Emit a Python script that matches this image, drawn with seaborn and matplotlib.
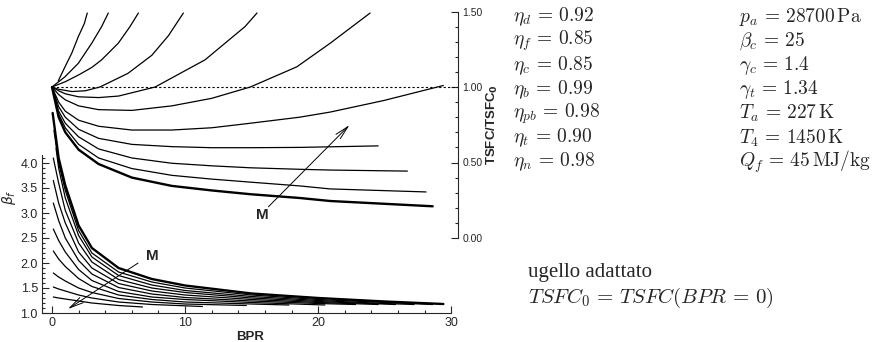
import numpy as np
import pandas as pd
import matplotlib
matplotlib.use("Agg")
import matplotlib.pyplot as plt
import seaborn as sns
from matplotlib.ticker import FixedLocator, FormatStrFormatter

# TSFC/TSFC0 vs BPR (upper family, one list per curve)
tsfc_bpr = [
    [0.47, 0.98, 1.48, 1.98, 2.43, 2.65],
    [0, 0.98, 1.98, 2.98, 3.73, 4.23],
    [0, 1, 2, 3, 3.73, 4.98, 5.86, 6.49],
    [0, 0.5, 1.5, 2.5, 3.6, 5.7, 7.5, 8.75, 9.87],
    [0, 0.5, 1, 2, 3.5, 5, 7.75, 11.5, 14.5, 15.4],
    [0, 0.5, 1, 2, 3.5, 6, 9, 12, 14.9, 18.4, 20.9, 23.9],
    [0, 0.5, 1, 2, 3.5, 6, 9, 12, 14.9, 18.6, 20.9, 24.9, 29.4],
    [0, 0.5, 1, 2, 3.5, 6, 9, 12, 14.9, 18.6, 24.5],
    [0, 0.5, 1, 2, 3.5, 6, 9, 12, 14.9, 18.6, 20.9, 26.7],
    [0, 0.5, 1, 2, 3.5, 6, 9, 12, 14.9, 18.6, 20.9, 28.1],
    [0, 0.5, 1, 2, 3.5, 6, 9, 12, 14.9, 18.6, 20.9, 28.6],
]
tsfc_val = [
    [1.04, 1.134, 1.223, 1.334, 1.42, 1.49],
    [1.0, 1.068, 1.157, 1.289, 1.40, 1.49],
    [1.0, 1.035, 1.08, 1.13, 1.18, 1.29, 1.40, 1.49],
    [1.0, 0.985, 0.97, 0.975, 1.0, 1.09, 1.21, 1.34, 1.49],
    [1.0, 0.975, 0.955, 0.935, 0.93, 0.94, 1.0, 1.18, 1.40, 1.49],
    [1.0, 0.95, 0.915, 0.875, 0.85, 0.845, 0.875, 0.925, 1.0, 1.134, 1.29, 1.49],
    [1.0, 0.90, 0.84, 0.78, 0.74, 0.715, 0.715, 0.73, 0.76, 0.80, 0.834, 0.91, 1.01],
    [1.0, 0.87, 0.80, 0.72, 0.66, 0.62, 0.605, 0.598, 0.598, 0.60, 0.61],
    [1.0, 0.84, 0.76, 0.67, 0.59, 0.53, 0.495, 0.478, 0.465, 0.455, 0.45, 0.443],
    [1.0, 0.82, 0.73, 0.62, 0.53, 0.46, 0.415, 0.39, 0.37, 0.345, 0.325, 0.305],
    [1.0, 0.80, 0.70, 0.585, 0.49, 0.40, 0.345, 0.315, 0.29, 0.265, 0.245, 0.21],
]
tsfc_thick = [10]

# fan pressure ratio beta_f vs BPR (lower family)
beta_bpr = [
    [0.05, 0.5, 1, 2, 3, 5, 7.5, 10, 15, 20, 25, 29.4],
    [0.15, 0.5, 1, 2, 3, 5, 7.5, 10, 15, 20, 25, 28.6],
    [0.3, 0.5, 1, 2, 3, 5, 7.5, 10, 15, 20, 25, 27.2],
    [0.1, 0.5, 1, 2, 3, 5, 7.5, 10, 15, 20, 25.8],
    [0.1, 0.5, 1, 2, 3, 5, 7.5, 10, 15, 20, 24.5],
    [0.1, 0.5, 1, 2, 3, 5, 7.5, 10, 15, 20, 22.8],
    [0.1, 0.5, 1, 2, 3, 5, 7.5, 10, 15, 20.5],
    [0.1, 0.5, 1, 2, 3, 5, 7.5, 10, 15, 17.8],
    [0.1, 0.5, 1, 2, 3, 5, 7.5, 10, 14.6],
    [0.1, 0.5, 1, 2, 3, 5, 7.5, 11.3],
    [0.1, 0.5, 1, 2, 3, 5, 6.8],
]
beta_val = [
    [5.0, 4.1, 3.55, 2.75, 2.3, 1.9, 1.68, 1.55, 1.39, 1.3, 1.23, 1.18],
    [4.65, 4.0, 3.45, 2.65, 2.2, 1.82, 1.62, 1.5, 1.36, 1.27, 1.21, 1.17],
    [4.3, 3.9, 3.3, 2.55, 2.12, 1.75, 1.56, 1.45, 1.33, 1.25, 1.19, 1.17],
    [4.1, 3.6, 3.05, 2.4, 2.02, 1.67, 1.5, 1.41, 1.3, 1.23, 1.17],
    [3.65, 3.2, 2.8, 2.22, 1.9, 1.59, 1.44, 1.36, 1.27, 1.21, 1.17],
    [3.2, 2.85, 2.5, 2.05, 1.78, 1.51, 1.38, 1.31, 1.24, 1.19, 1.17],
    [2.68, 2.45, 2.22, 1.87, 1.65, 1.43, 1.32, 1.27, 1.21, 1.16],
    [2.24, 2.08, 1.93, 1.69, 1.53, 1.36, 1.27, 1.22, 1.18, 1.16],
    [1.8, 1.72, 1.64, 1.5, 1.41, 1.29, 1.22, 1.18, 1.15],
    [1.52, 1.48, 1.44, 1.36, 1.3, 1.22, 1.17, 1.13],
    [1.32, 1.3, 1.28, 1.24, 1.2, 1.15, 1.12],
]
beta_thick = [0]

params_left = [r"$\eta_d \,=\, 0.92$", r"$\eta_f \,=\, 0.85$",
               r"$\eta_c \,=\, 0.85$", r"$\eta_b \,=\, 0.99$",
               r"$\eta_{pb} \,=\, 0.98$", r"$\eta_t \,=\, 0.90$",
               r"$\eta_n \,=\, 0.98$"]
params_right = [r"$p_a \,=\, 28700\,\mathrm{Pa}$", r"$\beta_c \,=\, 25$",
                r"$\gamma_c \,=\, 1.4$", r"$\gamma_t \,=\, 1.34$",
                r"$T_a \,=\, 227\,\mathrm{K}$", r"$T_4 \,=\, 1450\,\mathrm{K}$",
                r"$Q_f \,=\, 45\,\mathrm{MJ/kg}$"]


def to_frame(xs, ys, thick):
    parts = []
    for i, (x, y) in enumerate(zip(xs, ys)):
        parts.append(pd.DataFrame({"BPR": x, "val": y, "curve": i,
                                   "thick": i in thick}))
    return pd.concat(parts, ignore_index=True)


sns.set_style("ticks")
plt.rcParams["font.family"] = ["Liberation Sans", "DejaVu Sans"]
plt.rcParams["mathtext.fontset"] = "cm"

W, H = 874, 342
fig = plt.figure(figsize=(W / 100, H / 100), dpi=100)


def box(x0, y_top, x1, y_bot):
    # pixel box -> figure fraction
    return [x0 / W, 1 - y_bot / H, (x1 - x0) / W, (y_bot - y_top) / H]


# lower axes (beta_f), upper axes (TSFC) share the same x range
ax = fig.add_axes(box(42, 103, 458, 313))
ax2 = fig.add_axes(box(42, 11.5, 458, 238), sharex=ax)
ax2.patch.set_alpha(0)

df_b = to_frame(beta_bpr, beta_val, beta_thick)
df_t = to_frame(tsfc_bpr, tsfc_val, tsfc_thick)

for d, a in ((df_b, ax), (df_t, ax2)):
    sns.lineplot(data=d[~d.thick], x="BPR", y="val", units="curve",
                 estimator=None, sort=False, color="black", lw=0.9, ax=a)
    sns.lineplot(data=d[d.thick], x="BPR", y="val", units="curve",
                 estimator=None, sort=False, color="black", lw=1.7, ax=a)

ax2.axhline(1.0, xmin=0.75 / 31.25, xmax=1, color="black", lw=0.8,
            ls=(0, (2, 2)))

ax.set_xlim(-0.75, 30.5)
ax.set_ylim(1.0, 5.2)
ax2.set_ylim(0, 1.5)

# lower axes styling
for s in ("top", "right"):
    ax.spines[s].set_visible(False)
ax.spines["left"].set_bounds(1.0, 4.15)
ax.spines["bottom"].set_bounds(-0.75, 30)
ax.xaxis.set_major_locator(FixedLocator([0, 10, 20, 30]))
ax.xaxis.set_minor_locator(FixedLocator([2, 4, 6, 8, 12, 14, 16, 18,
                                         22, 24, 26, 28]))
ax.yaxis.set_major_locator(FixedLocator([1.0, 1.5, 2.0, 2.5, 3.0, 3.5, 4.0]))
ax.yaxis.set_minor_locator(FixedLocator(np.arange(1.0, 4.15, 0.1)))
ax.yaxis.set_major_formatter(FormatStrFormatter("%.1f"))
ax.tick_params(which="major", direction="in", length=5, width=0.8,
               labelsize=9, pad=3)
ax.tick_params(which="minor", direction="in", length=2.5, width=0.8)
ax.set_xlabel("BPR", fontsize=9.5, fontweight="bold")
ax.xaxis.set_label_coords((250 - 42) / 416, -0.085)
ax.set_ylabel(r"$\beta_f$", fontsize=10, math_fontfamily="dejavusans")
ax.yaxis.set_label_coords(-0.058, 0.55)

# upper axes styling
for s in ("top", "left", "bottom"):
    ax2.spines[s].set_visible(False)
ax2.xaxis.set_visible(False)
ax2.yaxis.tick_right()
ax2.yaxis.set_label_position("right")
ax2.yaxis.set_major_locator(FixedLocator([0, 0.5, 1.0, 1.5]))
ax2.yaxis.set_minor_locator(FixedLocator(np.arange(0, 1.51, 0.1)))
ax2.yaxis.set_major_formatter(FormatStrFormatter("%.2f"))
ax2.tick_params(which="major", direction="in", length=5, width=0.8,
                labelsize=7.5, pad=3)
ax2.tick_params(which="minor", direction="in", length=2.5, width=0.8)
ax2.set_ylabel(r"TSFC/TSFC$_\mathbf{0}$", fontsize=9.5, fontweight="bold",
               math_fontfamily="dejavusans", rotation=90, labelpad=2)
ax2.set_xlabel("")

# Mach arrows
ax.annotate("", xy=(1.2, 1.08), xytext=(6.47, 2.0),
            arrowprops=dict(arrowstyle="->,head_length=1.0,head_width=0.22",
                            lw=0.7, color="black", shrinkA=0, shrinkB=0))
ax.text(7.5, 2.13, "M", fontsize=11, fontweight="bold", ha="center",
        va="center")
ax2.annotate("", xy=(22.35, 0.748), xytext=(16.26, 0.207),
             arrowprops=dict(arrowstyle="->,head_length=1.0,head_width=0.22",
                             lw=0.7, color="black", shrinkA=0, shrinkB=0))
ax2.text(15.77, 0.152, "M", fontsize=11, fontweight="bold", ha="center",
         va="center")

# parameter list
right_txt = []
for i, (l, r) in enumerate(zip(params_left, params_right)):
    y = 1 - (17 + 24.2 * i) / H
    fig.text(513 / W, y, l, fontsize=14, va="center", ha="left")
    right_txt.append(fig.text(780 / W, y, r, fontsize=14, va="center",
                              ha="left"))
fig.text(528 / W, 1 - 272 / H, "ugello adattato", fontsize=15,
         family="Liberation Serif", va="center", ha="left")
fig.text(528 / W, 1 - 298 / H, r"$TSFC_0 \,=\, TSFC(BPR \,=\, 0)$",
         fontsize=15, va="center", ha="left")

# keep the right column inside the figure
fig.canvas.draw()
rend = fig.canvas.get_renderer()
edge = max(t.get_window_extent(rend).x1 for t in right_txt)
if edge > W - 3:
    for t in right_txt:
        x, y = t.get_position()
        t.set_x(x - (edge - (W - 3)) / W)

fig.savefig("out.png", dpi=100)
